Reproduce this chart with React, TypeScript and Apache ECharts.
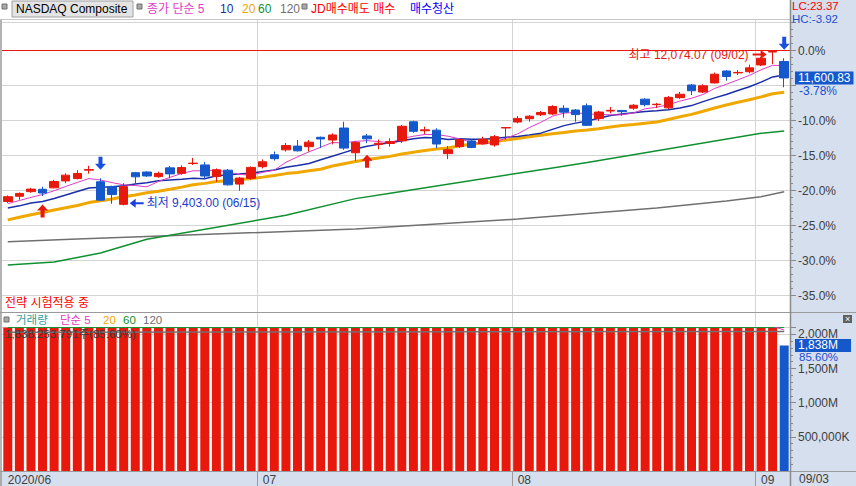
import React, { useEffect, useRef } from 'react';
import * as echarts from 'echarts';

// ---------- data ----------
const dates = [
  '2020/06/01','2020/06/02','2020/06/03','2020/06/04','2020/06/05','2020/06/08','2020/06/09','2020/06/10','2020/06/11','2020/06/12',
  '2020/06/15','2020/06/16','2020/06/17','2020/06/18','2020/06/19','2020/06/22','2020/06/23','2020/06/24','2020/06/25','2020/06/26',
  '2020/06/29','2020/06/30',
  '2020/07/01','2020/07/02','2020/07/06','2020/07/07','2020/07/08','2020/07/09','2020/07/10','2020/07/13','2020/07/14','2020/07/15',
  '2020/07/16','2020/07/17','2020/07/20','2020/07/21','2020/07/22','2020/07/23','2020/07/24','2020/07/27','2020/07/28','2020/07/29',
  '2020/07/30','2020/07/31',
  '2020/08/03','2020/08/04','2020/08/05','2020/08/06','2020/08/07','2020/08/10','2020/08/11','2020/08/12','2020/08/13','2020/08/14',
  '2020/08/17','2020/08/18','2020/08/19','2020/08/20','2020/08/21','2020/08/24','2020/08/25','2020/08/26','2020/08/27','2020/08/28',
  '2020/08/31',
  '2020/09/01','2020/09/02','2020/09/03',
];

const opens = [
  9470, 9560, 9640, 9680, 9705, 9825, 9865, 10010, 9810, 9725,
  9420, 9966, 9978, 9898, 10050, 9955, 10125, 10100, 9900, 10010,
  9770, 9870,
  10070, 10275, 10360, 10425, 10415, 10577, 10530, 10737, 10310, 10600,
  10455, 10470, 10515, 10845, 10690, 10700, 10295, 10415, 10515, 10466,
  10445, 10738,
  10840, 10897, 10966, 10980, 11077, 11047, 11120, 10900, 11030, 11040,
  11080, 11235, 11140, 11085, 11260, 11479, 11358, 11515, 11720, 11688,
  11708,
  11825, 12047, 11885,
];
const closes = [
  9552, 9609, 9683, 9616, 9814, 9924, 9953, 10020, 9493, 9589,
  9726, 9895, 9910, 9955, 9946, 10056, 10131, 9909, 10017, 9757,
  9874, 10058,
  10155, 10208, 10434, 10344, 10493, 10548, 10617, 10391, 10489, 10550,
  10474, 10503, 10767, 10680, 10706, 10461, 10363, 10536, 10402, 10543,
  10588, 10745,
  10903, 10941, 11005, 11108, 11011, 10968, 10783, 11012, 11042, 11019,
  11130, 11140, 11147, 11265, 11320, 11380, 11466, 11665, 11625, 11696,
  11775,
  11940, 12056, 11600.83,
];
const lows = [
  9445, 9500, 9620, 9565, 9697, 9785, 9850, 9950, 9480, 9430,
  9403, 9772, 9895, 9880, 9870, 9930, 10100, 9855, 9810, 9745,
  9655, 9845,
  10040, 10175, 10330, 10330, 10330, 10390, 10455, 10360, 10170, 10475,
  10370, 10415, 10480, 10655, 10635, 10390, 10200, 10395, 10390, 10450,
  10414, 10540,
  10818, 10846, 10944, 10960, 10915, 10846, 10772, 10860, 10990, 10950,
  11050, 11110, 11080, 11065, 11237, 11306, 11340, 11505, 11553, 11651,
  11680,
  11805, 11839, 11440,
];
const highs = [
  9575, 9625, 9705, 9724, 9845, 9955, 10010, 10086, 9870, 9742,
  9785, 9980, 9990, 9985, 10080, 10095, 10221, 10150, 10040, 10030,
  9895, 10075,
  10195, 10330, 10480, 10530, 10530, 10590, 10645, 10845, 10510, 10635,
  10540, 10560, 10790, 10865, 10760, 10732, 10425, 10560, 10542, 10587,
  10616, 10750,
  10945, 10960, 11030, 11130, 11130, 11065, 11160, 11030, 11100, 11045,
  11150, 11250, 11170, 11290, 11358, 11496, 11490, 11694, 11737, 11737,
  11830,
  11960, 12074.07, 11940,
];
// closes before the window (needed for the 5/10/20-day averages at the left edge)
const priorCloses = [
  8710.71, 8809.12, 8854.39, 8979.66, 9121.32, 9192.34, 9002.55, 8863.17, 8943.72, 9014.56,
  9234.83, 9185.10, 9375.78, 9284.88, 9324.59, 9340.22, 9412.36, 9368.99, 9489.87,
];
// 60 / 120-day averages at some candles: [index, value]
const ma60Read = [[0, 8374], [4, 8425], [8, 8581], [12, 8817], [24, 9233], [30, 9519], [33, 9611], [47, 10049], [50, 10142], [65, 10646], [67, 10685]];
const ma120Read = [[0, 8776], [6, 8822], [12, 8865], [30, 8995], [44, 9167], [56, 9357], [62, 9478], [65, 9552], [67, 9638]];

// volume, millions of shares
const volumes = [
  2650, 2780, 2900, 2870, 3150, 2980, 2920, 3050, 3300, 2850, 2720, 2890, 2580, 2520, 3340, 2450, 2480, 2790, 2510, 2700, 2420, 2380,
  2550, 2310, 2590, 2480, 2390, 2470, 2420, 2860, 2650, 2580, 2490, 2460, 2530, 2410, 2390, 2520, 2440, 2370, 2460, 2430, 2610, 2480,
  2330, 2290, 2260, 2380, 2350, 2300, 2710, 2550, 2290, 2250, 2210, 2270, 2240, 2260, 2230, 2280, 2200, 2310, 2120, 2105, 2115,
  2110, 2147.5, 1838.25,
];
const volMa60Read = [[0, 2099], [67, 2099]];
const volMa120Read = [[0, 2031], [67, 2040]];

const buySignals = [3, 31];
const sellSignals = [8, 67];
const periodHigh = 12074.07;
const periodHighIdx = 66;
const periodLow = 9403.0;
const periodLowIdx = 10;

const monthStarts = [0, 22, 44, 65];
const monthLabels = ['2020/06', '07', '08', '09'];
const priceAxisPct = [0, -10, -15, -20, -25, -30, -35];

// ---------- style ----------
const FONT = "'Liberation Sans', Arial, 'Noto Sans CJK KR', sans-serif";
const RED = '#e8180c';
const BLUE = '#1558cc';
const C5 = '#e03cc8';
const C10 = '#1a2ea8';
const C20 = '#f0a800';
const C60 = '#109030';
const C120 = '#707070';
const GRIDC = '#d4d4d4';
const PANEL = '#d5dfee';
const HIDDEN_LINE = { color: 'rgba(0,0,0,0)', width: 0 };

function movingAvg(n: number) {
  const all = [...priorCloses, ...closes];
  return closes.map((_, i) => {
    const j = i + priorCloses.length;
    if (j + 1 < n) return null;
    let s = 0;
    for (let k = j - n + 1; k <= j; k++) s += all[k];
    return +(s / n).toFixed(2);
  });
}
function volAvg(n: number) {
  return volumes.map((_, i) => {
    if (i + 1 < n) return null;
    let s = 0;
    for (let k = i - n + 1; k <= i; k++) s += volumes[k];
    return +(s / n).toFixed(2);
  });
}
function sparse(points: number[][]) {
  const arr: (number | null)[] = dates.map(() => null);
  points.forEach(([i, v]) => { arr[i] = v; });
  return arr;
}

const txt = (x: number, y: number, text: string, fill: string, size = 12, lh?: number) => ({
  type: 'text', x, y, silent: true, z: 20,
  style: { text, fill, fontSize: size, fontFamily: FONT, align: 'left', verticalAlign: 'middle', ...(lh ? { lineHeight: lh } : {}) },
});
const hline = (x1: number, x2: number, y: number, stroke: string, w = 1) => ({
  type: 'line', silent: true, z: 19, shape: { x1, y1: y, x2, y2: y }, style: { stroke, lineWidth: w },
});
const vline = (x: number, y1: number, y2: number, stroke: string, w = 1) => ({
  type: 'line', silent: true, z: 19, shape: { x1: x, y1, x2: x, y2 }, style: { stroke, lineWidth: w },
});
const square = (x: number, y: number) => ({
  type: 'rect', silent: true, z: 20, shape: { x, y, width: 5, height: 5 }, style: { fill: '#a8a8a8', stroke: '#707070', lineWidth: 1 },
});

const staticGraphics: any[] = [
  hline(0, 790, 19.5, '#c8c8c8'),
  hline(0, 856, 312.5, '#9a9a9a'),
  hline(0, 856, 471.5, '#9a9a9a'),
  vline(1, 20, 486, '#9a9a9a', 1.5),
  vline(790.5, 0, 486, '#8a8a8a', 1.5),
  // top legend
  square(2, 4),
  { type: 'rect', silent: true, z: 20, shape: { x: 12, y: 1, width: 121, height: 16 }, style: { fill: '#e4e4e4', stroke: '#a0a0a0', lineWidth: 1 } },
  txt(16, 9, 'NASDAQ Composite', '#000'),
  square(137, 4),
  txt(147, 9, '종가 단순 5', C5),
  txt(220, 9, '10', C10),
  txt(242, 9, '20', C20),
  txt(258, 9, '60', C60),
  txt(280, 9, '120', C120),
  square(302, 4),
  txt(311, 9, 'JD매수매도 매수', '#ff0000'),
  txt(410, 9, '매수청산', '#0000ff'),
  // right top
  txt(792, 6, 'LC:23.37', '#ff0000', 11.5, 12),
  txt(792, 18.5, 'HC:-3.92', '#1a50d0', 11.5, 12),
  // pane texts
  txt(5, 302.5, '전략 시험적용 중', '#ff0000'),
  square(4, 317),
  txt(16, 320, '거래량', '#30a0a0', 11.5, 12),
  txt(60, 320, '단순 5', C5, 11.5, 12),
  txt(103, 320, '20', C20, 11.5, 12),
  txt(123, 320, '60', C60, 11.5, 12),
  txt(143, 320, '120', C120, 11.5, 12),
  txt(5, 333.5, '1,838,253,791주(85.60%)', '#3a3a3a', 11.5, 12),
  { type: 'rect', silent: true, z: 20, shape: { x: 843, y: 315, width: 9, height: 8 }, style: { fill: '#606060' } },
  { type: 'text', silent: true, z: 21, x: 847.5, y: 319, style: { text: '×', fill: '#fff', fontSize: 9, fontFamily: FONT, align: 'center', verticalAlign: 'middle' } },
  txt(799, 479, '09/03', '#404040'),
];

const UP = 'path://M5.5,0 L11,6 L7.5,6 L7.5,13 L3.5,13 L3.5,6 L0,6 Z';
const DOWN = 'path://M3.5,0 L7.5,0 L7.5,7 L11,7 L5.5,13 L0,7 L3.5,7 Z';
const LEFT = 'path://M0,4.5 L6,0 L6,3.5 L14,3.5 L14,5.5 L6,5.5 L6,9 Z';
const RIGHT = 'path://M14,4.5 L8,0 L8,3.5 L0,3.5 L0,5.5 L8,5.5 L8,9 Z';

function buildOption() {
  const H = periodHigh;
  const isMonth = (i: number) => monthStarts.includes(i) && i !== 0;
  const candle = dates.map((_, i) => [opens[i], closes[i], lows[i], highs[i]]);
  const lastPrice = closes[closes.length - 1];
  const lastVol = volumes[volumes.length - 1];

  const markPoints: any[] = [
    ...buySignals.map((i) => ({
      coord: [dates[i], lows[i]], symbol: UP, symbolSize: [11, 13], symbolOffset: [0, i === 31 ? 18 : 15],
      itemStyle: { color: RED }, label: { show: false },
    })),
    ...sellSignals.map((i) => ({
      coord: [dates[i], highs[i]], symbol: DOWN, symbolSize: [11, 13], symbolOffset: [0, -15],
      itemStyle: { color: '#1a50e0' }, label: { show: false },
    })),
    {
      coord: [dates[periodLowIdx], periodLow], symbol: LEFT, symbolSize: [14, 9], symbolOffset: [13, -2],
      itemStyle: { color: '#1a40e0' },
      label: { show: true, position: 'right', distance: 3, formatter: '최저 9,403.00 (06/15)', color: '#1c3cc8', fontSize: 12, fontFamily: FONT },
    },
    {
      coord: [dates[periodHighIdx], periodHigh], symbol: RIGHT, symbolSize: [14, 9], symbolOffset: [-13, 4],
      itemStyle: { color: RED },
      label: { show: true, position: 'left', distance: 4, formatter: '최고 12,074.07 (09/02)', color: RED, fontSize: 12, fontFamily: FONT },
    },
  ];

  const lineS = (name: string, data: any[], color: string, width: number, xi = 0, connect = false) => ({
    name, type: 'line', xAxisIndex: xi, yAxisIndex: xi, data, showSymbol: false, symbol: 'none',
    connectNulls: connect, z: 2, silent: true, lineStyle: { color, width }, itemStyle: { color },
  });

  const boxLabel = (text: string, padRight: number) => ({
    show: true, position: 'end', distance: 5, formatter: text, color: '#ffffff', backgroundColor: BLUE,
    padding: [1, padRight, 0, 3], fontSize: 12, lineHeight: 12, fontFamily: FONT,
  });

  return {
    animation: false,
    backgroundColor: 'transparent',
    textStyle: { fontFamily: FONT },
    grid: [
      { left: 2, right: 66, top: 22.5, height: 273 },
      { left: 2, right: 66, top: 327.5, height: 143.5 },
      { left: 2, right: 66, top: 20, height: 451 },
    ],
    xAxis: [
      { type: 'category', gridIndex: 0, data: dates, boundaryGap: true, axisLine: { show: false }, axisTick: { show: false }, axisLabel: { show: false }, splitLine: { show: false } },
      {
        type: 'category', gridIndex: 1, data: dates, boundaryGap: true,
        axisLine: { show: true, lineStyle: { color: '#9a9a9a' } },
        axisTick: { show: true, length: 15, interval: (i: number) => isMonth(i), lineStyle: { color: '#9a9a9a' } },
        axisLabel: {
          show: true, interval: (i: number) => monthStarts.includes(i), align: 'left', margin: 3,
          color: '#404040', fontSize: 12, fontFamily: FONT,
          formatter: (_v: string, i: number) => monthLabels[monthStarts.indexOf(i)] ?? '',
        },
        splitLine: { show: false },
      },
      {
        type: 'category', gridIndex: 2, data: dates, boundaryGap: true, axisLine: { show: false }, axisTick: { show: false }, axisLabel: { show: false },
        splitLine: { show: true, interval: (i: number) => isMonth(i), lineStyle: { color: GRIDC, width: 1 } },
      },
    ],
    yAxis: [
      {
        type: 'value', gridIndex: 0, position: 'right', min: H * 0.65, max: H * 1.04, interval: H * 0.05,
        axisLine: { show: false },
        axisTick: { show: true, length: 6, lineStyle: { color: '#888' } },
        minorTick: { show: true, splitNumber: 5, length: 3, lineStyle: { color: '#888' } },
        splitLine: { show: true, lineStyle: { color: GRIDC } },
        axisLabel: {
          margin: 8, color: '#404040', fontSize: 12, lineHeight: 12, fontFamily: FONT,
          formatter: (v: number) => {
            const p = Math.round((v / H - 1) * 100);
            return priceAxisPct.includes(p) ? `${p === 0 ? '0' : p}.0%` : '';
          },
        },
      },
      {
        type: 'value', gridIndex: 1, position: 'right', min: 0, max: 2100, interval: 500,
        axisLine: { show: false },
        axisTick: { show: true, length: 6, lineStyle: { color: '#888' } },
        minorTick: { show: true, splitNumber: 5, length: 3, lineStyle: { color: '#888' } },
        splitLine: { show: true, lineStyle: { color: GRIDC } },
        axisLabel: {
          margin: 8, color: '#404040', fontSize: 12, lineHeight: 11, fontFamily: FONT,
          formatter: (v: number) => {
            if (v === 500) return '500,000K';
            if (v >= 1000 && v <= 2000 && v % 500 === 0) return `${Math.floor(v / 1000)},${String(v % 1000).padStart(3, '0')}M`;
            return '';
          },
        },
      },
      { type: 'value', gridIndex: 2, min: 0, max: 1, show: false },
    ],
    series: [
      lineS('MA120', sparse(ma120Read), C120, 1.5, 0, true),
      lineS('MA60', sparse(ma60Read), C60, 1.5, 0, true),
      lineS('MA20', movingAvg(20), C20, 3),
      lineS('MA10', movingAvg(10), C10, 1.5),
      lineS('MA5', movingAvg(5), C5, 1),
      {
        name: 'NASDAQ', type: 'candlestick', xAxisIndex: 0, yAxisIndex: 0, data: candle, barWidth: 9, z: 3, silent: true,
        itemStyle: { color: RED, color0: BLUE, borderColor: RED, borderColor0: BLUE, borderWidth: 1 },
        markPoint: { silent: true, data: markPoints },
        markLine: {
          silent: true, symbol: 'none',
          data: [
            { yAxis: periodHigh, lineStyle: { color: RED, width: 1, type: 'solid' }, label: { show: false } },
            { yAxis: lastPrice, lineStyle: HIDDEN_LINE, label: boxLabel('11,600.83', 3) },
          ],
        },
      },
      {
        name: '거래량', type: 'bar', xAxisIndex: 1, yAxisIndex: 1, barWidth: 9, z: 3, silent: true, clip: true,
        data: volumes.map((v, i) => ({ value: v, itemStyle: { color: i === volumes.length - 1 ? BLUE : RED } })),
        markLine: {
          silent: true, symbol: 'none',
          data: [{ yAxis: lastVol, lineStyle: HIDDEN_LINE, label: boxLabel('1,838M', 13) }],
        },
      },
      { ...lineS('V120', sparse(volMa120Read), C120, 1.5, 1, true), z: 4 },
      { ...lineS('V60', sparse(volMa60Read), C60, 1, 1, true), z: 4 },
      { ...lineS('V20', volAvg(20), C20, 1, 1), z: 4 },
      { ...lineS('V5', volAvg(5), C5, 1, 1), z: 4 },
    ],
    graphic: { elements: staticGraphics },
  };
}

export default function App() {
  const ref = useRef<HTMLDivElement>(null);
  useEffect(() => {
    document.body.style.margin = '0';
    const chart = echarts.init(ref.current as HTMLDivElement, null, { renderer: 'svg' });
    chart.setOption(buildOption() as any);
    const yP = chart.convertToPixel({ yAxisIndex: 0 } as any, closes[closes.length - 1]) as unknown as number;
    const yV = chart.convertToPixel({ yAxisIndex: 1 } as any, volumes[volumes.length - 1]) as unknown as number;
    chart.setOption({
      graphic: {
        elements: [
          ...staticGraphics,
          txt(799, yP + 13, '-3.78%', '#1a50d0', 12, 11),
          txt(799, yV + 12, '85.60%', '#1a50d0', 11.5, 11),
        ],
      },
    } as any);
    return () => chart.dispose();
  }, []);
  return (
    <div style={{ position: 'relative', width: 856, height: 486, background: '#fff', overflow: 'hidden' }}>
      <div style={{ position: 'absolute', left: 790, top: 0, width: 66, height: 486, background: PANEL }} />
      <div style={{ position: 'absolute', left: 0, top: 471, width: 790, height: 15, background: PANEL }} />
      <div ref={ref} style={{ position: 'absolute', left: 0, top: 0, width: 856, height: 486 }} />
    </div>
  );
}
